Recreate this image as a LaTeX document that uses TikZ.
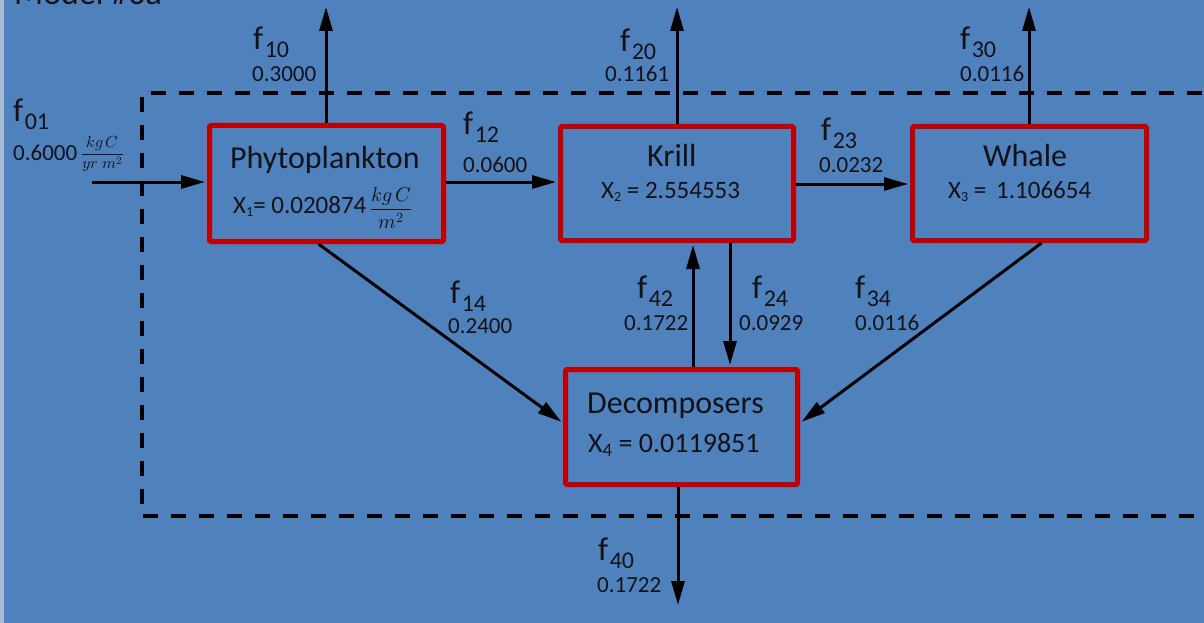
\documentclass[tikz,border=0pt]{standalone}
\usepackage{fontspec}
\setmainfont{Carlito}
\usepackage{unicode-math}
\setmathfont{Latin Modern Math}
\usetikzlibrary{arrows.meta}

\definecolor{bg}{RGB}{79,129,189}
\definecolor{edgestrip}{RGB}{168,188,216}
\definecolor{boxred}{RGB}{192,0,0}
\definecolor{ink}{RGB}{18,18,24}

% flow label: f with a lowered index
\newcommand{\fl}[1]{f\kern1.5pt\raisebox{-8pt}{\fontsize{24}{24}\selectfont #1}}
% state variable with a small lowered index
\newcommand{\xs}[2]{X\raisebox{-3pt}{\fontsize{#2}{#2}\selectfont #1}}
% unit fraction set in math italic
\newcommand{\ufrac}[3]{{\fontsize{#1}{#1}\selectfont$\displaystyle\frac{#2}{#3}$}}

\tikzset{
  compartment/.style={draw=boxred, line width=5pt, rounded corners=1.5pt, inner sep=0pt},
  flow/.style={draw=black, line width=3pt, -{Triangle[length=24pt,width=13pt]}},
  boundary/.style={draw=black, line width=4pt, dash pattern=on 15pt off 13pt},
  ftag/.style={anchor=base west, inner sep=0pt, text=ink, font=\fontsize{33}{33}\selectfont},
  fval/.style={anchor=base west, inner sep=0pt, text=ink, font=\fontsize{23}{23}\selectfont},
  cname/.style={anchor=base west, inner sep=0pt, text=ink, font=\fontsize{32}{32}\selectfont},
  cval/.style={anchor=base west, inner sep=0pt, text=ink, font=\fontsize{25}{25}\selectfont},
}

\begin{document}
\begin{tikzpicture}[x=1pt,y=-1pt]
  \useasboundingbox (0,0) rectangle (1204,623);
  \clip (0,0) rectangle (1204,623);
  \fill[bg] (0,0) rectangle (1204,623);
  \fill[edgestrip] (0,0) rectangle (4,623);

  % heading, mostly above the top edge
  \node[anchor=base west, inner sep=0pt, text=ink, font=\fontsize{34}{34}\selectfont] (heading) at (14,5) {Model \#6a};

  % system boundary, open to the right
  \draw[boundary] (1230,93) -- (142,93) -- (142,516) -- (1230,516);

  % compartments
  \node[compartment, minimum width=234pt, minimum height=116pt] (phyto) at (326.5,183.5) {};
  \node[compartment, minimum width=233pt, minimum height=114pt] (krill) at (677,183.5) {};
  \node[compartment, minimum width=234pt, minimum height=114pt] (whale) at (1029.5,183.5) {};
  \node[compartment, minimum width=232pt, minimum height=115pt] (dec) at (681.5,427) {};

  % free ends of the boundary flows
  \coordinate (in01) at (92,182);
  \coordinate (out10) at (326,7);
  \coordinate (out20) at (677,7);
  \coordinate (out30) at (1029,7);
  \coordinate (out40) at (678,605);
  \coordinate (x42) at (693,300);
  \coordinate (x24) at (730,300);

  % flows
  \draw[flow, shorten >=2pt] (in01) -- (in01 -| phyto.west);
  \draw[flow] (out10 |- phyto.north) -- (out10);
  \draw[flow] (out20 |- krill.north) -- (out20);
  \draw[flow] (out30 |- whale.north) -- (out30);
  \draw[flow, shorten >=2pt] ([yshift=1.5pt]phyto.east) -- ([yshift=1.5pt]krill.west);
  \draw[flow, shorten >=2pt] ([yshift=-0.5pt]krill.east) -- ([yshift=-0.5pt]whale.west);
  \draw[flow, shorten >=2pt] ([xshift=-8pt]phyto.south) -- ([yshift=4pt]dec.west);
  \draw[flow, shorten >=2pt] ([xshift=12pt]whale.south) -- ([yshift=4pt]dec.east);
  \draw[flow, shorten >=2pt] (x42 |- dec.north) -- (x42 |- krill.south);
  \draw[flow, shorten >=2pt] (x24 |- krill.south) -- (x24 |- dec.north);
  \draw[flow] (out40 |- dec.south) -- (out40);

  % compartment texts
  \node[cname] (phyton) at (230,168) {Phytoplankton};
  \node[cval] (phytov) at (233,213) {\xs{1}{14}= 0.020874};
  \node[anchor=west, inner sep=0pt, text=ink] (phytou) at (370,208) {\ufrac{20}{kg\,C}{m^2}};

  \node[cname] (krilln) at (647,166) {Krill};
  \node[cval] (krillv) at (601,198) {\xs{2}{14} = 2.554553};

  \node[cname] (whalen) at (983,166) {Whale};
  \node[cval] (whalev) at (948,198) {\xs{3}{14} =\ \,1.106654};

  \node[cname] (decn) at (587,413) {Decomposers};
  \node[cval, font=\fontsize{28}{28}\selectfont] (decv) at (588,452) {X\raisebox{-4pt}{\fontsize{19}{19}\selectfont 4} = 0.0119851};

  % flow labels
  \node[ftag] (l01) at (13,122) {\fl{01}};
  \node[fval] (v01) at (13,160) {0.6000};
  \node[anchor=west, inner sep=0pt, text=ink] (u01) at (81,154) {\ufrac{16}{kg\,C}{yr\;m^2}};

  \node[ftag] (l10) at (253,50) {\fl{10}};
  \node[fval] (v10) at (252,82) {0.3000};

  \node[ftag] (l20) at (620,52) {\fl{20}};
  \node[fval] (v20) at (605,82) {0.1161};

  \node[ftag] (l30) at (960,50) {\fl{30}};
  \node[fval] (v30) at (960,82) {0.0116};

  \node[ftag] (l12) at (463,135) {\fl{12}};
  \node[fval] (v12) at (463,172) {0.0600};

  \node[ftag] (l23) at (821,140) {\fl{23}};
  \node[fval] (v23) at (819,172) {0.0232};

  \node[ftag] (l14) at (450,303) {\fl{14}};
  \node[fval] (v14) at (448,333) {0.2400};

  \node[ftag] (l42) at (637,298) {\fl{42}};
  \node[fval] (v42) at (624,330) {0.1722};

  \node[ftag] (l24) at (752,298) {\fl{24}};
  \node[fval] (v24) at (739,330) {0.0929};

  \node[ftag] (l34) at (855,298) {\fl{34}};
  \node[fval] (v34) at (855,330) {0.0116};

  \node[ftag] (l40) at (598,560) {\fl{40}};
  \node[fval] (v40) at (597,592) {0.1722};
\end{tikzpicture}
\end{document}
